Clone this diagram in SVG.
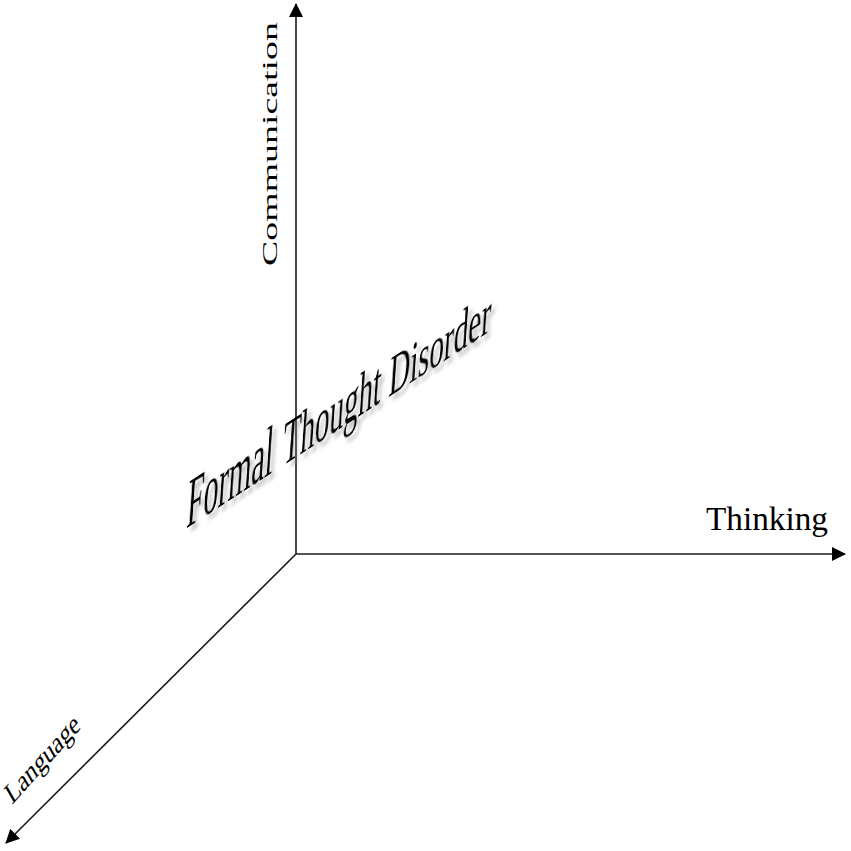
<svg xmlns="http://www.w3.org/2000/svg" width="851" height="851" viewBox="0 0 851 851">
<defs>
<style>
.axis{stroke:#1a1a1a;stroke-width:1.6;fill:none}
.lbl{font-family:"Liberation Serif","Times New Roman",serif;fill:#000}
</style>
<marker id="ah" viewBox="0 0 14 14" refX="13" refY="7" markerWidth="14" markerHeight="14" markerUnits="userSpaceOnUse" orient="auto">
<path d="M0,0 L14,7 L0,14 Z" fill="#000"/>
</marker>
<filter id="sh" x="-10%" y="-10%" width="130%" height="140%">
<feDropShadow dx="4" dy="6" stdDeviation="2" flood-color="#808080" flood-opacity="0.55"/>
</filter>
</defs>
<rect width="851" height="851" fill="#fff"/>
<g id="connectors">
<line class="axis" x1="296" y1="554" x2="296" y2="4" marker-end="url(#ah)"/>
<line class="axis" x1="296" y1="554" x2="845" y2="554" marker-end="url(#ah)"/>
<line class="axis" x1="296" y1="554" x2="6" y2="843" marker-end="url(#ah)"/>
</g>
<g id="communication">
<text class="lbl" transform="translate(277,266) rotate(-90)" font-size="21" textLength="244" lengthAdjust="spacingAndGlyphs">Communication</text>
</g>
<g id="thinking">
<text class="lbl" x="706" y="530" font-size="33" textLength="122" lengthAdjust="spacingAndGlyphs">Thinking</text>
</g>
<g id="language">
<text class="lbl" transform="translate(12,805) rotate(-48) skewX(-18)" font-size="26" textLength="104" lengthAdjust="spacingAndGlyphs">Language</text>
</g>
<g id="formal-thought-disorder" filter="url(#sh)" transform="translate(187,528) skewY(-33) skewX(-4)">
<text class="lbl" x="-1" y="0" font-size="68" textLength="86" lengthAdjust="spacingAndGlyphs">Formal</text>
<text class="lbl" x="95" y="0" font-size="60" textLength="98" lengthAdjust="spacingAndGlyphs">Thought</text>
<text class="lbl" x="201" y="0" font-size="57" textLength="102" lengthAdjust="spacingAndGlyphs">Disorder</text>
</g>
</svg>
